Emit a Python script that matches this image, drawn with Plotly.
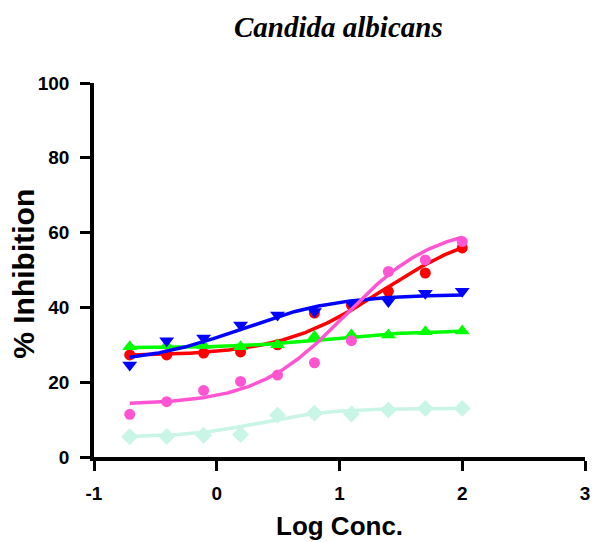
import numpy as np
import plotly.graph_objects as go

# ---- data ----
log_conc = [-0.709, -0.408, -0.107, 0.194, 0.495, 0.796, 1.097, 1.398, 1.699, 2.000]
red_vals = [27.3, 27.3, 27.8, 28.1, 30.0, 38.5, 40.6, 44.3, 49.2, 55.9]
green_vals = [29.5, 29.8, 29.8, 29.5, 30.0, 32.2, 32.6, 32.6, 33.5, 33.7]
blue_vals = [24.6, 31.1, 31.8, 35.3, 38.0, 38.9, 41.1, 41.6, 43.8, 44.3]
pink_vals = [11.4, 14.8, 17.8, 20.2, 21.9, 25.2, 31.1, 49.6, 52.7, 57.6]
cyan_vals = [5.4, 5.5, 5.8, 6.0, 11.2, 11.7, 11.5, 12.6, 13.0, 13.0]

# sigmoidal (4PL) fit parameters estimated from the drawn curves: bottom, top, logEC50, hill
red_fit = [27.0, 62.0, 1.35, 1.05]
green_fit = [29.2, 33.8, 0.9, 1.2]
blue_fit = [25.0, 43.5, 0.2, 1.1]
pink_fit = [14.0, 62.0, 1.05, 1.2]
cyan_fit = [5.3, 13.0, 0.35, 1.5]

x_ticks = [-1, 0, 1, 2, 3]
y_ticks = [0, 20, 40, 60, 80, 100]


def fit_curve(p, x):
    b, t, c, h = p
    return b + (t - b) / (1 + 10 ** ((c - x) * h))


xs = np.linspace(min(log_conc), max(log_conc), 200)

series = [
    ("red", red_vals, red_fit, "#ff0000", "circle", 11),
    ("green", green_vals, green_fit, "#00ff00", "triangle-up", 13),
    ("blue", blue_vals, blue_fit, "#0000ff", "triangle-down", 13),
    ("pink", pink_vals, pink_fit, "#ff55d2", "circle", 11),
    ("cyan", cyan_vals, cyan_fit, "#c8f5e6", "diamond", 13),
]

fig = go.Figure()
for name, vals, fit, col, sym, sz in series:
    fig.add_trace(go.Scatter(x=xs, y=fit_curve(fit, xs), mode="lines",
                             line=dict(color=col, width=3.5), showlegend=False,
                             hoverinfo="skip"))
    fig.add_trace(go.Scatter(x=log_conc, y=vals, mode="markers",
                             marker=dict(color=col, symbol=sym, size=sz, line=dict(width=0)),
                             showlegend=False, name=name))

tickfont = dict(family="Arial, Liberation Sans, sans-serif", size=19, color="black", weight="bold")

# plot area in page pixels: x 94..590, y 83..457 (page has an 8px body margin)
PW, PH = 496.0, 374.0

fig.update_layout(
    width=592, height=534,
    margin=dict(l=86, r=10, t=75, b=85),
    plot_bgcolor="white", paper_bgcolor="white",
    xaxis=dict(range=[-1, 3], tickvals=x_ticks, ticktext=[str(v) for v in x_ticks],
               showgrid=False, zeroline=False, showline=True, linecolor="black", linewidth=3.5,
               ticks="outside", ticklen=10, tickwidth=3, tickcolor="black",
               tickfont=tickfont, ticklabelstandoff=6),
    yaxis=dict(range=[0, 100], tickvals=y_ticks, ticktext=[str(v) for v in y_ticks],
               showgrid=False, zeroline=False, showline=True, linecolor="black", linewidth=3.5,
               ticks="outside", ticklen=10, tickwidth=3, tickcolor="black",
               tickfont=tickfont, ticklabelstandoff=7),
    annotations=[
        dict(text="<b><i>Candida albicans</i></b>", xref="paper", yref="paper",
             x=(341 - 94) / PW, y=(457 - 27) / PH, yanchor="middle",
             xanchor="center", showarrow=False,
             font=dict(family="Liberation Serif, Times New Roman, serif", size=29, color="black")),
        dict(text="<b>Log Conc.</b>", xref="paper", yref="paper",
             x=(342 - 94) / PW, y=-(526 - 457) / PH, xanchor="center", yanchor="middle",
             showarrow=False,
             font=dict(family="Arial, Liberation Sans, sans-serif", size=26, color="black")),
        dict(text="<b>% Inhibition</b>", xref="paper", yref="paper",
             x=-(94 - 22) / PW, y=(457 - 274) / PH, xanchor="center", yanchor="middle",
             textangle=-90, showarrow=False,
             font=dict(family="Arial, Liberation Sans, sans-serif", size=30, color="black")),
    ],
)

fig.write_html("out.html")
